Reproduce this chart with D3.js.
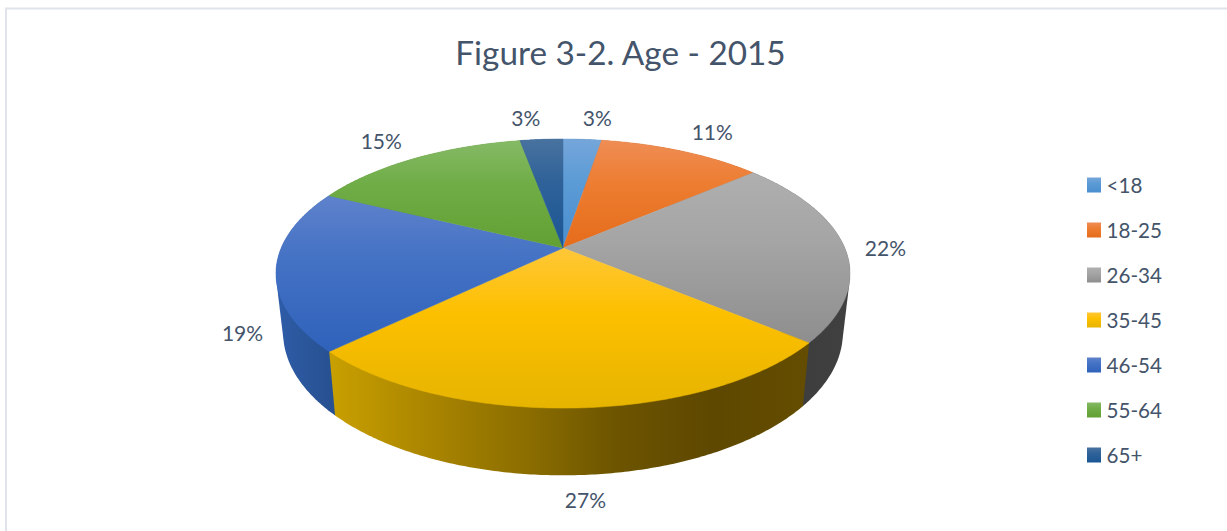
<!DOCTYPE html>
<html>
<head>
<meta charset="utf-8">
<title>Figure 3-2. Age - 2015</title>
<script src="https://cdn.jsdelivr.net/npm/d3@7"></script>
<style>
  html, body { margin: 0; padding: 0; background: #fff; }
  svg { display: block; }
  text { font-family: Lato, "Open Sans", sans-serif; fill: #44546a; }
</style>
</head>
<body>
<div id="chart"></div>
<script>
const titleText = 'Figure 3-2. Age - 2015';
const categories = ['<18', '18-25', '26-34', '35-45', '46-54', '55-64', '65+'];
// estimated from the slice edges, the labels show them rounded
const shares = [2.6, 11.1, 22.4, 26.7, 19.4, 14.9, 2.9];

// light, mid, dark shade of each top face
const faceColors = [
  ['#75a6da', '#5b9bd5', '#4a8fd0'],
  ['#ef8d55', '#ed7d31', '#e56c1b'],
  ['#afafaf', '#a5a5a5', '#8e8e8e'],
  ['#ffc738', '#fdc000', '#e6b400'],
  ['#5f82cc', '#4472c4', '#2f62bb'],
  ['#86ba66', '#70ad47', '#62a033'],
  ['#48729f', '#2f6299', '#1a5694']
];
// left to right shade of each side wall
const wallColors = [
  ['#3a6f9f', '#3a6f9f'],
  ['#a04f15', '#a04f15'],
  ['#3b3b3b', '#404040'],
  ['#c9a000', '#ab8600', '#8d6f00', '#6c5400', '#5e4800', '#644d00'],
  ['#2f5ca8', '#26508f'],
  ['#4d7a2e', '#4d7a2e'],
  ['#1a4570', '#1a4570']
];

const width = 1227, height = 531;

// pie seen in perspective: apex, circle size, foreshortening
const pieX = 563, pieY = 248;
const radiusX = 281.8, radiusY = 129.7, tilt = 0.19;
// the base circle is a bit further from the viewer
const baseScaleX = 0.975, baseScaleY = 1.06, baseDrop = 57.6;

const svg = d3.select('#chart').append('svg')
  .attr('width', width)
  .attr('height', height);

const defs = svg.append('defs');

// chart frame, only top and left are visible
svg.append('path')
  .attr('d', `M6,${height}V8.5H${width}`)
  .attr('fill', 'none')
  .attr('stroke', '#e0e3ec')
  .attr('stroke-width', 2);

svg.append('text')
  .attr('x', 620.5)
  .attr('y', 65)
  .attr('text-anchor', 'middle')
  .style('font-size', '33.3px')
  .text(titleText);

function topPoint(angle) {
  const cx = Math.sin(angle), cy = -Math.cos(angle);
  const w = 1 - tilt * cy;
  return [pieX + radiusX * cx / w, pieY + radiusY * cy / w];
}

function basePoint(angle) {
  const p = topPoint(angle);
  return [pieX + (p[0] - pieX) * baseScaleX, pieY + (p[1] - pieY) * baseScaleY + baseDrop];
}

function arcAngles(a0, a1) {
  const n = Math.max(2, Math.ceil((a1 - a0) / 0.01));
  return d3.range(n + 1).map(i => a0 + (a1 - a0) * i / n);
}

const line = d3.line();
const pie = d3.pie().sort(null);
const slices = pie(shares);

const faceFill = d3.scaleOrdinal().domain(categories).range(categories.map((d, i) => `url(#face${i})`));

categories.forEach((c, i) => {
  const grad = defs.append('linearGradient')
    .attr('id', `face${i}`)
    .attr('x1', 0).attr('y1', 0).attr('x2', 0).attr('y2', 1);
  grad.selectAll('stop').data(faceColors[i]).join('stop')
    .attr('offset', (d, j) => [0, 0.4, 1][j])
    .attr('stop-color', d => d);

  const wall = defs.append('linearGradient')
    .attr('id', `wall${i}`)
    .attr('x1', 0).attr('y1', 0).attr('x2', 1).attr('y2', 0);
  wall.selectAll('stop').data(wallColors[i]).join('stop')
    .attr('offset', (d, j) => j / (wallColors[i].length - 1))
    .attr('stop-color', d => d);
});

// walls first, back to front, the top faces hide what is left of the back
// hull so the side of the pie runs straight from rim to base
const wallOrder = slices.slice().sort((a, b) =>
  Math.cos((b.startAngle + b.endAngle) / 2) - Math.cos((a.startAngle + a.endAngle) / 2));

svg.append('g').selectAll('path')
  .data(wallOrder)
  .join('path')
  .attr('fill', d => `url(#wall${d.index})`)
  .attr('d', d => {
    const angles = arcAngles(d.startAngle, d.endAngle);
    return line(d3.polygonHull(angles.map(topPoint).concat(angles.map(basePoint)))) + 'Z';
  });

svg.append('g').selectAll('path')
  .data(slices)
  .join('path')
  .attr('fill', (d, i) => faceFill(categories[i]))
  .attr('stroke', (d, i) => faceFill(categories[i]))
  .attr('stroke-width', 0.5)
  .attr('d', d => line([[pieX, pieY]].concat(arcAngles(d.startAngle, d.endAngle).map(topPoint))) + 'Z');

// data labels sit outside the rim, or outside the base on the front half
svg.append('g').selectAll('text')
  .data(slices)
  .join('text')
  .attr('text-anchor', 'middle')
  .attr('dy', '0.45em')
  .style('font-size', '21px')
  .each(function (d) {
    const mid = (d.startAngle + d.endAngle) / 2;
    const sx = Math.sin(mid), sy = -Math.cos(mid);
    const p = sy > 0.01 ? basePoint(mid) : topPoint(mid);
    d3.select(this)
      .attr('x', p[0] + 41 * Math.sign(sx) * Math.pow(Math.abs(sx), 0.4))
      .attr('y', p[1] + 23 * sy);
  })
  .text(d => Math.round(d.data) + '%');

// legend
const legendY = d3.scalePoint().domain(categories).range([185, 455]);
const legend = svg.append('g').selectAll('g')
  .data(categories)
  .join('g')
  .attr('transform', d => `translate(1087,${legendY(d)})`);

legend.append('rect')
  .attr('x', 0)
  .attr('y', -7.5)
  .attr('width', 14)
  .attr('height', 15)
  .attr('fill', d => faceFill(d));

legend.append('text')
  .attr('x', 19.5)
  .attr('dy', '0.38em')
  .style('font-size', '20.6px')
  .text(d => d);
</script>
</body>
</html>
